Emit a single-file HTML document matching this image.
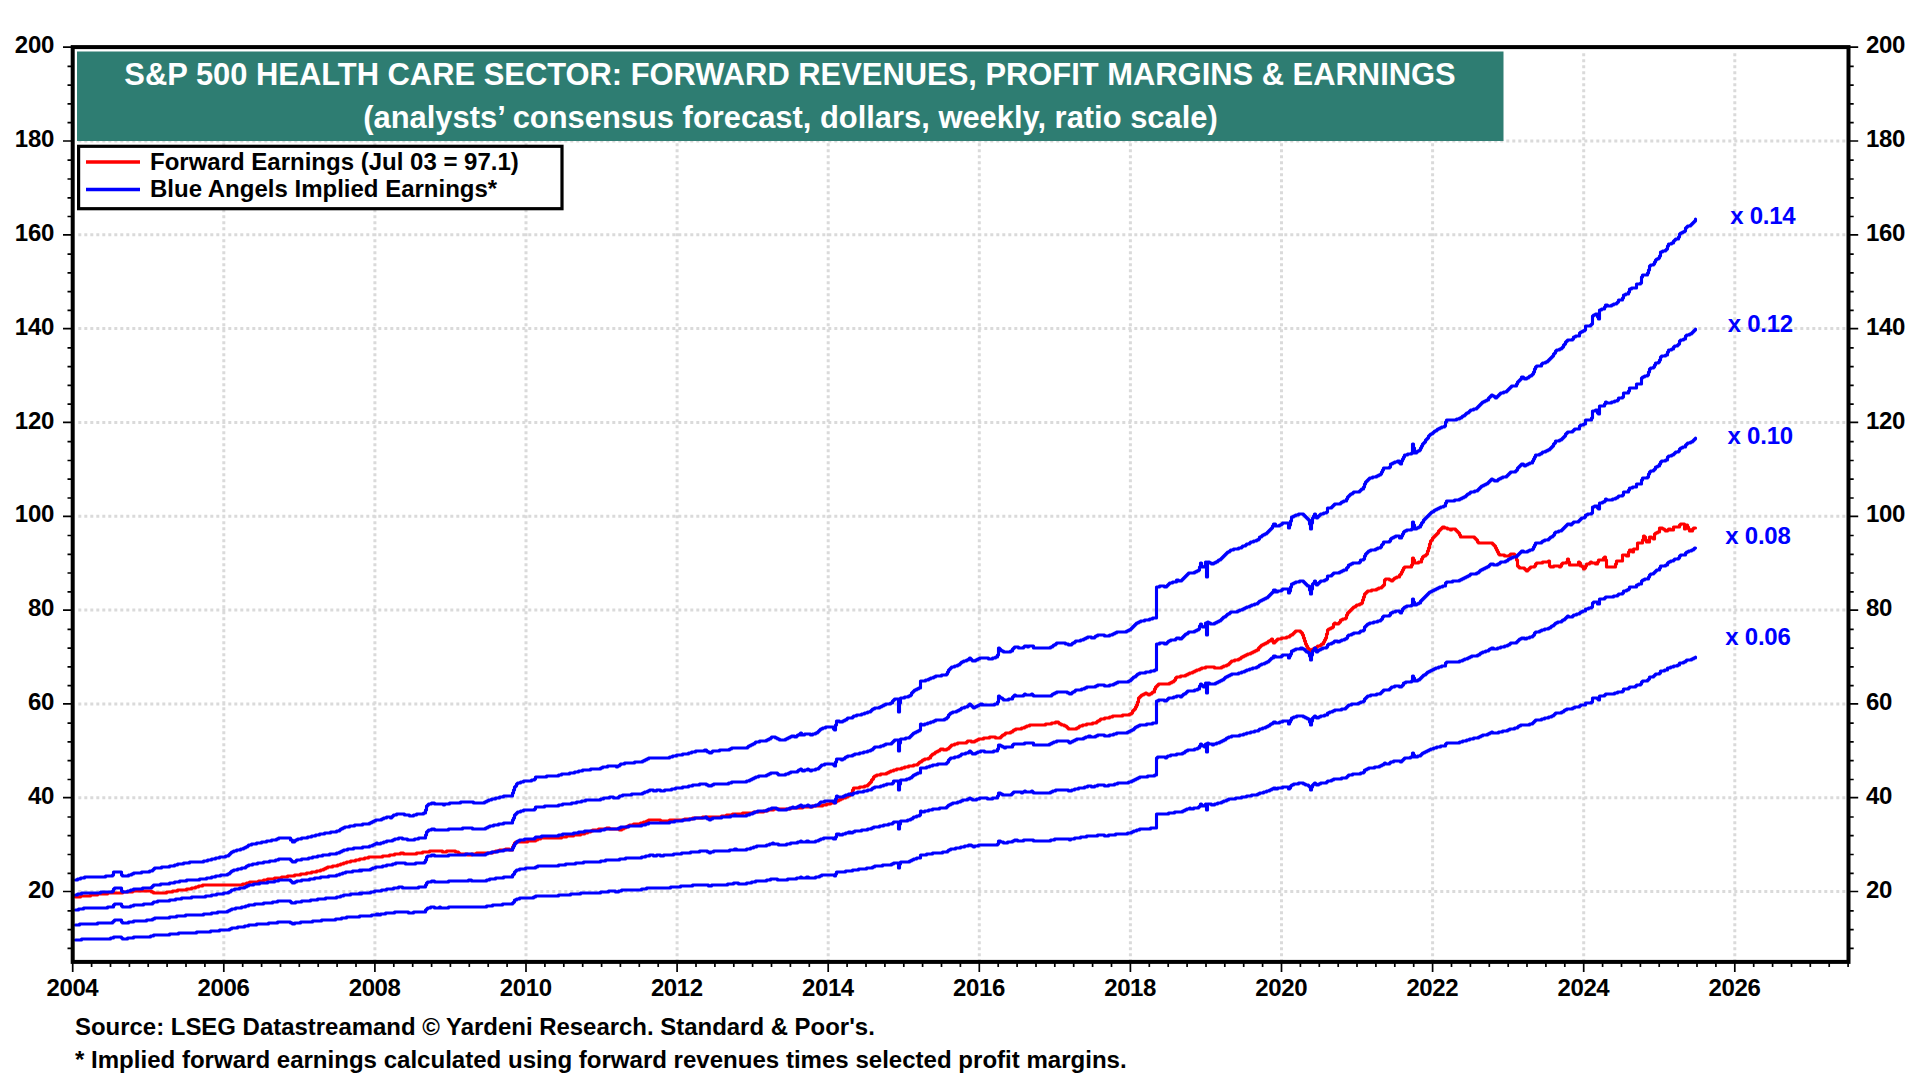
<!DOCTYPE html>
<html lang="en"><head><meta charset="utf-8"><title>S&amp;P 500 Health Care Sector</title>
<style>html,body{margin:0;padding:0;background:#fff;width:1920px;height:1080px;overflow:hidden}</style></head>
<body>
<svg width="1920" height="1080" viewBox="0 0 1920 1080" style="position:absolute;left:0;top:0">
<rect width="1920" height="1080" fill="#fff"/>
<path d="M78.3 891.5H1846.5M78.3 797.7H1846.5M78.3 703.9H1846.5M78.3 610.1H1846.5M78.3 516.3H1846.5M78.3 422.4H1846.5M78.3 328.6H1846.5M78.3 234.8H1846.5M78.3 141.0H1846.5M223.8 53.3V959.9M374.9 53.3V959.9M526.0 53.3V959.9M677.1 53.3V959.9M828.2 53.3V959.9M979.3 53.3V959.9M1130.4 53.3V959.9M1281.5 53.3V959.9M1432.6 53.3V959.9M1583.7 53.3V959.9M1734.8 53.3V959.9" stroke="#dadada" stroke-width="3" stroke-dasharray="3 3" fill="none"/>
<rect x="77" y="51.5" width="1426.5" height="89.5" fill="#2e7d72"/>
<path d="M67.5 948.3H72.7M1848.5 948.3H1853.7M67.5 929.6H72.7M1848.5 929.6H1853.7M67.5 910.8H72.7M1848.5 910.8H1853.7M67.5 873.3H72.7M1848.5 873.3H1853.7M67.5 854.5H72.7M1848.5 854.5H1853.7M67.5 835.7H72.7M1848.5 835.7H1853.7M67.5 817.0H72.7M1848.5 817.0H1853.7M67.5 779.5H72.7M1848.5 779.5H1853.7M67.5 760.7H72.7M1848.5 760.7H1853.7M67.5 741.9H72.7M1848.5 741.9H1853.7M67.5 723.2H72.7M1848.5 723.2H1853.7M67.5 685.6H72.7M1848.5 685.6H1853.7M67.5 666.9H72.7M1848.5 666.9H1853.7M67.5 648.1H72.7M1848.5 648.1H1853.7M67.5 629.3H72.7M1848.5 629.3H1853.7M67.5 591.8H72.7M1848.5 591.8H1853.7M67.5 573.0H72.7M1848.5 573.0H1853.7M67.5 554.3H72.7M1848.5 554.3H1853.7M67.5 535.5H72.7M1848.5 535.5H1853.7M67.5 498.0H72.7M1848.5 498.0H1853.7M67.5 479.2H72.7M1848.5 479.2H1853.7M67.5 460.5H72.7M1848.5 460.5H1853.7M67.5 441.7H72.7M1848.5 441.7H1853.7M67.5 404.2H72.7M1848.5 404.2H1853.7M67.5 385.4H72.7M1848.5 385.4H1853.7M67.5 366.6H72.7M1848.5 366.6H1853.7M67.5 347.9H72.7M1848.5 347.9H1853.7M67.5 310.3H72.7M1848.5 310.3H1853.7M67.5 291.6H72.7M1848.5 291.6H1853.7M67.5 272.8H72.7M1848.5 272.8H1853.7M67.5 254.1H72.7M1848.5 254.1H1853.7M67.5 216.5H72.7M1848.5 216.5H1853.7M67.5 197.8H72.7M1848.5 197.8H1853.7M67.5 179.0H72.7M1848.5 179.0H1853.7M67.5 160.2H72.7M1848.5 160.2H1853.7M67.5 122.7H72.7M1848.5 122.7H1853.7M67.5 103.9H72.7M1848.5 103.9H1853.7M67.5 85.2H72.7M1848.5 85.2H1853.7M67.5 66.4H72.7M1848.5 66.4H1853.7M63.0 891.5H72.7M1848.5 891.5H1858.2M63.0 797.7H72.7M1848.5 797.7H1858.2M63.0 703.9H72.7M1848.5 703.9H1858.2M63.0 610.1H72.7M1848.5 610.1H1858.2M63.0 516.3H72.7M1848.5 516.3H1858.2M63.0 422.4H72.7M1848.5 422.4H1858.2M63.0 328.6H72.7M1848.5 328.6H1858.2M63.0 234.8H72.7M1848.5 234.8H1858.2M63.0 141.0H72.7M1848.5 141.0H1858.2M63.0 47.1H72.7M1848.5 47.1H1858.2M72.7 961.9V972.0M91.6 961.9V967.0M110.5 961.9V967.0M129.4 961.9V967.0M148.2 961.9V967.0M167.1 961.9V967.0M186.0 961.9V967.0M204.9 961.9V967.0M223.8 961.9V972.0M242.7 961.9V967.0M261.6 961.9V967.0M280.5 961.9V967.0M299.3 961.9V967.0M318.2 961.9V967.0M337.1 961.9V967.0M356.0 961.9V967.0M374.9 961.9V972.0M393.8 961.9V967.0M412.7 961.9V967.0M431.6 961.9V967.0M450.4 961.9V967.0M469.3 961.9V967.0M488.2 961.9V967.0M507.1 961.9V967.0M526.0 961.9V972.0M544.9 961.9V967.0M563.8 961.9V967.0M582.7 961.9V967.0M601.6 961.9V967.0M620.4 961.9V967.0M639.3 961.9V967.0M658.2 961.9V967.0M677.1 961.9V972.0M696.0 961.9V967.0M714.9 961.9V967.0M733.8 961.9V967.0M752.6 961.9V967.0M771.5 961.9V967.0M790.4 961.9V967.0M809.3 961.9V967.0M828.2 961.9V972.0M847.1 961.9V967.0M866.0 961.9V967.0M884.9 961.9V967.0M903.8 961.9V967.0M922.6 961.9V967.0M941.5 961.9V967.0M960.4 961.9V967.0M979.3 961.9V972.0M998.2 961.9V967.0M1017.1 961.9V967.0M1036.0 961.9V967.0M1054.8 961.9V967.0M1073.7 961.9V967.0M1092.6 961.9V967.0M1111.5 961.9V967.0M1130.4 961.9V972.0M1149.3 961.9V967.0M1168.2 961.9V967.0M1187.1 961.9V967.0M1206.0 961.9V967.0M1224.8 961.9V967.0M1243.7 961.9V967.0M1262.6 961.9V967.0M1281.5 961.9V972.0M1300.4 961.9V967.0M1319.3 961.9V967.0M1338.2 961.9V967.0M1357.0 961.9V967.0M1375.9 961.9V967.0M1394.8 961.9V967.0M1413.7 961.9V967.0M1432.6 961.9V972.0M1451.5 961.9V967.0M1470.4 961.9V967.0M1489.3 961.9V967.0M1508.2 961.9V967.0M1527.0 961.9V967.0M1545.9 961.9V967.0M1564.8 961.9V967.0M1583.7 961.9V972.0M1602.6 961.9V967.0M1621.5 961.9V967.0M1640.4 961.9V967.0M1659.2 961.9V967.0M1678.1 961.9V967.0M1697.0 961.9V967.0M1715.9 961.9V967.0M1734.8 961.9V972.0M1753.7 961.9V967.0M1772.6 961.9V967.0M1791.5 961.9V967.0M1810.3 961.9V967.0M1829.2 961.9V967.0M1848.1 961.9V967.0" stroke="#000" stroke-width="1.7" fill="none"/>
<path d="M75.5 897H79.5H80.5V896H89.5H90.5V895H96.5H97.5V894H106.5H107.5V893H121.5H122.5V892H131.5H132.5V891H150.5H151.5V892H152.5H153.5V893H165.5H166.5V892H171.5H172.5V891H176.5H177.5V890H185.5H186.5V889H190.5H191.5V888H194.5H195.5V887H197.5H198.5V886H201.5H202.5V885H241.5H242.5V884H245.5H246.5V883H248.5H249.5V882H257.5H258.5V881H262.5H263.5V880H266.5H267.5V879H273.5H274.5V878H280.5H281.5V877H286.5H287.5V876H293.5H294.5V875H299.5H300.5V874H305.5H306.5V873H310.5H311.5V872H315.5H316.5V871H319.5H320.5V870H322.5H323.5V869H324.5H325.5V868H326.5H327.5V867H331.5H332.5V866H336.5H337.5V865H339.5H340.5V864H342.5H343.5V863H345.5H346.5V862H349.5H350.5V861H354.5H355.5V860H358.5H359.5V859H363.5H364.5V858H367.5H368.5V857H381.5H382.5V856H388.5H389.5V855H393.5H394.5V854H399.5H400.5V853H402.5H403.5V854H415.5H416.5V853H421.5H422.5V852H428.5H429.5V851H441.5H442.5V852H445.5H446.5V851H454.5H455.5V852H457.5H458.5V853H459.5V854H466.5H467.5V855H470.5H471.5V854H475.5H476.5V853H491.5H492.5V852H494.5H495.5V851H498.5H499.5V850H504.5H505.5V849H508.5H509.5V850H511.5H512.5V847H513.5V845H514.5V843H515.5V842H526.5H527.5V841H534.5H535.5V840H536.5H537.5V839H539.5H540.5V838H560.5H561.5V837H565.5H566.5V836H572.5H573.5V835H579.5H580.5V834H583.5H584.5V833H586.5H587.5V832H589.5H590.5V831H591.5H592.5V830H597.5H598.5V829H605.5H606.5V828H608.5H609.5V829H618.5H619.5V830H620.5H621.5V829H622.5H623.5V828H624.5H625.5V827H626.5H627.5V826H628.5H629.5V825H632.5H633.5V824H639.5H640.5V823H642.5H643.5V822H645.5H646.5V821H647.5H648.5V820H659.5H660.5V821H668.5H669.5V820H683.5H684.5V819H691.5H692.5V818H701.5H702.5V817H720.5H721.5V816H725.5H726.5V815H731.5H732.5V814H741.5H742.5V813H752.5H753.5V812H762.5H763.5V811H766.5H767.5V810H772.5H773.5V809H789.5H790.5V808H801.5H802.5V807H811.5H812.5V806H821.5H822.5V805H825.5H826.5V804H829.5H830.5V803H833.5H834.5V802H835.5H836.5V801H837.5H838.5V800H839.5H840.5V799H841.5H842.5V798H844.5H845.5V797H846.5H847.5V796H848.5H849.5V795H850.5V794H851.5V793H852.5V790H853.5V788H858.5H859.5V787H863.5H864.5V786H866.5H867.5V785H868.5V784H869.5V783H870.5V782H871.5V780H872.5V779H873.5V777H874.5V776H875.5H876.5V775H879.5H880.5V774H885.5H886.5V773H887.5H888.5V772H889.5H890.5V771H892.5H893.5V770H895.5H896.5V769H900.5H901.5V768H903.5H904.5V767H907.5H908.5V766H912.5H913.5V765H916.5H917.5V764H918.5V763H919.5V762H920.5H921.5V761H922.5V760H923.5H924.5V759H927.5H928.5V758H929.5H930.5V756H931.5V755H932.5V754H933.5H934.5V753H935.5V752H936.5H937.5V751H938.5H939.5V750H940.5V749H942.5H943.5V750H945.5H946.5V749H947.5H948.5V748H949.5V747H950.5V746H951.5V745H953.5H954.5V744H956.5H957.5V743H965.5H966.5V742H967.5V741H970.5H971.5V742H973.5H974.5V741H975.5H976.5V740H977.5H978.5V739H982.5H983.5V738H988.5H989.5V737H994.5H995.5V738H999.5H1000.5V737H1001.5V736H1002.5V735H1003.5H1004.5V734H1005.5V733H1009.5H1010.5V732H1011.5H1012.5V731H1013.5V730H1014.5H1015.5V729H1020.5H1021.5V728H1023.5H1024.5V727H1025.5H1026.5V726H1028.5H1029.5V725H1044.5H1045.5V724H1050.5H1051.5V723H1054.5H1055.5V722H1057.5H1058.5V723H1059.5V724H1060.5H1061.5V725H1063.5H1064.5V726H1065.5H1066.5V727H1067.5V728H1068.5V729H1075.5H1076.5V728H1077.5H1078.5V727H1079.5V726H1081.5H1082.5V725H1085.5H1086.5V724H1091.5H1092.5V723H1095.5H1096.5V722H1097.5V721H1098.5H1099.5V720H1100.5V719H1103.5H1104.5V718H1108.5H1109.5V717H1111.5H1112.5V716H1121.5H1122.5V715H1128.5H1129.5V714H1130.5H1131.5V713H1132.5V711H1133.5V710H1134.5V709H1135.5V707H1136.5V705H1137.5V702H1138.5V698H1139.5V697H1140.5V696H1141.5V695H1142.5H1143.5V694H1144.5H1145.5V693H1146.5V694H1147.5H1148.5V695H1149.5V694H1150.5H1151.5V693H1152.5V692H1153.5H1154.5V689H1155.5V687H1156.5V686H1157.5V685H1158.5V684H1168.5H1169.5V683H1170.5H1171.5V682H1172.5H1173.5V681H1174.5V680H1175.5V678H1176.5V677H1179.5H1180.5V676H1184.5H1185.5V675H1186.5H1187.5V674H1188.5H1189.5V673H1191.5H1192.5V672H1193.5H1194.5V671H1195.5H1196.5V670H1198.5H1199.5V669H1200.5H1201.5V668H1204.5H1205.5V667H1213.5H1214.5V668H1220.5H1221.5V667H1222.5H1223.5V666H1225.5H1226.5V665H1227.5H1228.5V664H1229.5V663H1230.5V662H1231.5V661H1233.5H1234.5V660H1237.5H1238.5V659H1239.5H1240.5V658H1241.5V657H1242.5H1243.5V656H1244.5H1245.5V655H1246.5H1247.5V654H1249.5H1250.5V653H1251.5H1252.5V652H1253.5H1254.5V651H1255.5H1256.5V650H1257.5H1258.5V648H1259.5V647H1260.5V646H1261.5V645H1262.5H1263.5V644H1264.5H1265.5V643H1266.5H1267.5V642H1268.5V641H1269.5H1270.5V640H1271.5V639H1272.5V641H1273.5V643H1274.5V642H1275.5V641H1276.5V640H1277.5V639H1280.5H1281.5V638H1285.5H1286.5V637H1288.5H1289.5V636H1290.5V635H1291.5H1292.5V634H1293.5V633H1294.5V632H1295.5V631H1299.5H1300.5V632H1301.5V633H1302.5V635H1303.5V638H1304.5V641H1305.5V644H1306.5V646H1307.5V648H1308.5V649H1309.5V650H1310.5V651H1311.5V650H1312.5V649H1313.5H1314.5V648H1315.5H1316.5V647H1317.5V646H1319.5H1320.5V645H1321.5V644H1322.5H1323.5V642H1324.5V640H1325.5V638H1326.5V634H1327.5V630H1328.5V629H1329.5H1330.5V628H1331.5H1332.5V627H1333.5V624H1334.5V623H1335.5V624H1337.5H1338.5V623H1339.5V622H1340.5V620H1341.5H1342.5V619H1344.5H1345.5V618H1346.5V615H1347.5V613H1348.5V612H1349.5V611H1350.5V610H1351.5V609H1352.5V608H1353.5V607H1354.5H1355.5V606H1356.5V605H1358.5H1359.5V604H1360.5H1361.5V603H1362.5V600H1363.5V597H1364.5V594H1365.5V593H1366.5V592H1367.5V591H1370.5H1371.5V590H1375.5H1376.5V589H1377.5H1378.5V588H1380.5H1381.5V587H1382.5V586H1383.5V585H1384.5V580H1385.5V579H1388.5H1389.5V580H1390.5H1391.5V581H1392.5V580H1393.5V579H1394.5V578H1395.5H1396.5V577H1398.5H1399.5V575H1400.5V574H1401.5V572H1402.5V570H1403.5V568H1404.5V567H1410.5H1411.5V565H1412.5V558H1413.5V560H1414.5V563H1417.5H1418.5V562H1420.5H1421.5V559H1422.5V557H1423.5V556H1424.5H1425.5V555H1426.5V554H1427.5V551H1428.5V548H1429.5V544H1430.5V541H1431.5V540H1432.5V538H1433.5V537H1434.5V536H1435.5V535H1436.5V534H1437.5V533H1438.5V531H1439.5V530H1440.5V529H1441.5V528H1442.5V527H1443.5H1444.5V528H1446.5H1447.5V529H1449.5H1450.5V530H1451.5V529H1454.5H1455.5V530H1456.5V531H1457.5V532H1458.5V533H1459.5V535H1460.5V537H1473.5H1474.5V538H1475.5V539H1476.5V540H1477.5V542H1478.5V543H1491.5H1492.5V544H1493.5V545H1494.5V546H1495.5V548H1496.5V550H1497.5V552H1498.5V554H1499.5V555H1503.5H1504.5V556H1508.5H1509.5V555H1510.5V554H1513.5H1514.5V555H1515.5V557H1516.5V560H1517.5V566H1518.5V567H1519.5V568H1523.5H1524.5V569H1525.5V570H1526.5V571H1527.5V570H1528.5V569H1529.5V568H1530.5V567H1533.5H1534.5V566H1535.5V564H1536.5V563H1541.5H1542.5V562H1547.5H1548.5V561H1549.5V566H1550.5V567H1552.5H1553.5V566H1558.5H1559.5V567H1560.5V566H1561.5V564H1562.5V563H1565.5H1566.5V562H1567.5V559H1568.5V562H1569.5V565H1577.5H1578.5V562H1579.5V563H1580.5V566H1581.5H1582.5V567H1583.5V569H1584.5V568H1585.5V566H1586.5V564H1588.5H1589.5V563H1590.5V562H1591.5V563H1594.5H1595.5V564H1596.5H1597.5V562H1598.5V560H1602.5H1603.5V558H1604.5V557H1605.5V560H1606.5V567H1614.5H1615.5V564H1616.5V561H1621.5H1622.5V555H1625.5H1626.5V556H1627.5H1628.5V552H1629.5V550H1630.5H1631.5V551H1632.5V552H1633.5V549H1636.5H1637.5V543H1641.5H1642.5V540H1643.5V536H1644.5V537H1645.5V540H1646.5V542H1648.5H1649.5V537H1650.5H1651.5V538H1652.5H1653.5V539H1654.5V534H1655.5V533H1656.5H1657.5V532H1658.5H1659.5V528H1661.5H1662.5V529H1663.5H1664.5V530H1665.5V531H1666.5H1667.5V530H1668.5V529H1669.5H1670.5V530H1672.5H1673.5V527H1678.5H1679.5V525H1680.5V524H1683.5H1684.5V529H1685.5V528H1686.5V525H1687.5V527H1688.5V529H1689.5V531H1691.5H1692.5V529H1693.5V528H1695.5" stroke="#ff0000" stroke-width="3.1" fill="none" stroke-linejoin="round" stroke-linecap="round"/>
<path d="M75.5 940H80.5H81.5V939H109.5H110.5V938H112.5H113.5V937H120.5H121.5V938H122.5V939H126.5H127.5V938H132.5H133.5V937H149.5H150.5V936H152.5H153.5V935H168.5H169.5V934H177.5H178.5V933H195.5H196.5V932H209.5H210.5V931H218.5H219.5V930H228.5H229.5V929H230.5H231.5V928H236.5H237.5V927H243.5H244.5V926H247.5H248.5V925H255.5H256.5V924H267.5H268.5V923H276.5H277.5V922H289.5H290.5V923H291.5H292.5V924H293.5H294.5V923H299.5H300.5V922H311.5H312.5V921H320.5H321.5V920H334.5H335.5V919H340.5H341.5V918H345.5H346.5V917H358.5H359.5V916H370.5H371.5V915H375.5H376.5V914H377.5H378.5V915H379.5H380.5V914H384.5H385.5V913H393.5H394.5V912H407.5H408.5V913H412.5H413.5V912H424.5H425.5V910H426.5V909H427.5V908H429.5H430.5V907H433.5H434.5V908H438.5H439.5V907H440.5V908H447.5H448.5V907H485.5H486.5V906H491.5H492.5V905H501.5H502.5V904H511.5H512.5V903H513.5V902H514.5V900H515.5H516.5V899H518.5H519.5V898H532.5H533.5V897H534.5H535.5V896H557.5H558.5V895H569.5H570.5V894H579.5H580.5V893H599.5H600.5V892H607.5H608.5V891H614.5H615.5V892H617.5H618.5V891H620.5H621.5V890H640.5H641.5V889H645.5H646.5V888H669.5H670.5V887H679.5H680.5V886H691.5H692.5V885H707.5H708.5V886H710.5H711.5V885H726.5H727.5V884H732.5H733.5V883H737.5H738.5V884H745.5H746.5V883H750.5H751.5V882H754.5H755.5V881H765.5H766.5V880H769.5H770.5V879H776.5H777.5V880H786.5H787.5V879H795.5H796.5V878H799.5H800.5V877H801.5V878H805.5H806.5V877H807.5H808.5V878H814.5H815.5V877H818.5H819.5V876H820.5H821.5V875H833.5H834.5V876H835.5V874H836.5V872H844.5H845.5V871H851.5H852.5V870H857.5H858.5V869H865.5H866.5V868H871.5H872.5V867H873.5H874.5V866H881.5H882.5V865H890.5H891.5V864H892.5H893.5V863H897.5H898.5V868H899.5V864H900.5V862H908.5H909.5V861H910.5H911.5V860H912.5H913.5V859H915.5H916.5V858H919.5H920.5V855H925.5H926.5V854H931.5H932.5V853H941.5H942.5V852H946.5H947.5V851H948.5V850H949.5H950.5V849H954.5H955.5V848H959.5H960.5V847H963.5H964.5V846H967.5H968.5V845H970.5H971.5V846H972.5H973.5V847H974.5V846H977.5H978.5V845H996.5H997.5V844H998.5V841H999.5H1000.5V842H1002.5H1003.5V843H1006.5H1007.5V842H1011.5H1012.5V841H1013.5H1014.5V840H1016.5H1017.5V841H1022.5H1023.5V840H1032.5H1033.5V841H1049.5H1050.5V840H1053.5H1054.5V839H1068.5H1069.5V840H1070.5V839H1073.5H1074.5V838H1079.5H1080.5V837H1085.5H1086.5V836H1096.5H1097.5V835H1103.5H1104.5V836H1107.5H1108.5V835H1114.5H1115.5V834H1126.5H1127.5V833H1130.5H1131.5V832H1132.5H1133.5V831H1135.5H1136.5V830H1138.5H1139.5V829H1149.5H1150.5V828H1155.5H1156.5V814H1167.5H1168.5V813H1173.5H1174.5V812H1181.5H1182.5V811H1183.5H1184.5V810H1185.5H1186.5V809H1188.5H1189.5V808H1190.5V809H1192.5H1193.5V808H1197.5H1198.5V807H1199.5V806H1200.5V804H1201.5V805H1202.5V806H1204.5H1205.5V804H1206.5V810H1207.5V804H1210.5H1211.5V805H1213.5H1214.5V804H1216.5H1217.5V803H1220.5H1221.5V802H1222.5H1223.5V801H1225.5H1226.5V800H1227.5H1228.5V799H1234.5H1235.5V798H1240.5H1241.5V797H1245.5H1246.5V796H1250.5H1251.5V795H1256.5H1257.5V794H1258.5H1259.5V793H1262.5H1263.5V792H1265.5H1266.5V791H1268.5H1269.5V790H1270.5H1271.5V789H1272.5H1273.5V788H1274.5H1275.5V789H1276.5H1277.5V788H1281.5H1282.5V787H1287.5H1288.5V789H1289.5V788H1290.5V786H1291.5V785H1292.5H1293.5V784H1297.5H1298.5V783H1302.5H1303.5V784H1304.5H1305.5V785H1307.5H1308.5V786H1309.5V787H1310.5V790H1311.5V787H1312.5V785H1313.5V784H1314.5V783H1315.5V784H1316.5V785H1317.5H1318.5V784H1319.5H1320.5V783H1325.5H1326.5V782H1327.5V781H1330.5H1331.5V780H1332.5H1333.5V779H1340.5H1341.5V778H1345.5H1346.5V777H1347.5V776H1348.5V775H1351.5H1352.5V774H1359.5H1360.5V773H1362.5H1363.5V772H1364.5V770H1365.5H1366.5V769H1367.5H1368.5V768H1373.5H1374.5V767H1378.5H1379.5V766H1380.5H1381.5V765H1382.5H1383.5V764H1384.5V763H1385.5V764H1388.5H1389.5V763H1390.5V762H1392.5H1393.5V761H1399.5H1400.5V762H1401.5V761H1402.5V760H1403.5V759H1404.5V758H1409.5H1410.5V757H1411.5H1412.5V753H1413.5V755H1414.5V757H1416.5H1417.5V756H1419.5H1420.5V755H1421.5V754H1422.5V753H1423.5H1424.5V752H1425.5H1426.5V751H1427.5H1428.5V750H1429.5H1430.5V749H1432.5H1433.5V748H1435.5H1436.5V747H1439.5H1440.5V746H1444.5H1445.5V744H1446.5V743H1458.5H1459.5V742H1461.5H1462.5V741H1465.5H1466.5V740H1468.5H1469.5V739H1472.5H1473.5V738H1477.5H1478.5V737H1479.5H1480.5V736H1481.5H1482.5V735H1486.5H1487.5V734H1488.5H1489.5V733H1490.5H1491.5V732H1492.5V733H1497.5H1498.5V732H1501.5H1502.5V731H1506.5H1507.5V730H1508.5H1509.5V729H1513.5H1514.5V728H1516.5H1517.5V727H1518.5V726H1519.5H1520.5V725H1528.5H1529.5V724H1531.5H1532.5V723H1533.5V722H1534.5V721H1535.5V720H1540.5H1541.5V719H1543.5H1544.5V718H1547.5H1548.5V717H1550.5H1551.5V716H1552.5H1553.5V715H1554.5V714H1555.5V713H1560.5H1561.5V712H1562.5H1563.5V711H1564.5V710H1565.5H1566.5V709H1571.5H1572.5V708H1573.5H1574.5V707H1578.5H1579.5V706H1580.5V705H1584.5H1585.5V703H1590.5H1591.5V702H1592.5V698H1596.5H1597.5V699H1598.5V700H1599.5V696H1603.5H1604.5V695H1605.5V694H1613.5H1614.5V693H1616.5H1617.5V692H1621.5H1622.5V691H1623.5V689H1627.5H1628.5V688H1629.5V687H1634.5H1635.5V686H1636.5V685H1639.5H1640.5V684H1641.5V682H1642.5V681H1646.5H1647.5V680H1648.5V679H1649.5V677H1652.5H1653.5V676H1654.5V675H1655.5V674H1658.5H1659.5V673H1660.5V671H1663.5H1664.5V670H1666.5H1667.5V668H1669.5H1670.5V667H1672.5H1673.5V666H1676.5H1677.5V665H1678.5H1679.5V663H1682.5H1683.5V662H1684.5H1685.5V661H1686.5V660H1690.5H1691.5V659H1692.5H1693.5V658H1694.5H1695.5V657" stroke="#0000ff" stroke-width="3.1" fill="none" stroke-linejoin="round" stroke-linecap="round"/>
<path d="M75.5 925H78.5H79.5V924H96.5H97.5V923H111.5H112.5V922H113.5V921H114.5V920H120.5H121.5V922H122.5V923H127.5H128.5V922H132.5H133.5V921H145.5H146.5V920H151.5H152.5V919H153.5H154.5V918H168.5H169.5V917H175.5H176.5V916H184.5H185.5V915H202.5H203.5V914H210.5H211.5V913H216.5H217.5V912H226.5H227.5V911H228.5H229.5V910H230.5H231.5V909H234.5H235.5V908H240.5H241.5V907H244.5H245.5V906H247.5H248.5V905H253.5H254.5V904H262.5H263.5V903H271.5H272.5V902H276.5H277.5V901H289.5H290.5V902H291.5V903H294.5H295.5V902H300.5H301.5V901H309.5H310.5V900H316.5H317.5V899H324.5H325.5V898H335.5H336.5V897H339.5H340.5V896H342.5H343.5V895H349.5H350.5V894H358.5H359.5V893H360.5V894H361.5V893H369.5H370.5V892H373.5H374.5V891H380.5H381.5V890H385.5H386.5V889H392.5H393.5V888H397.5H398.5V887H401.5H402.5V888H417.5H418.5V887H424.5H425.5V885H426.5V883H427.5V882H430.5H431.5V881H433.5H434.5V882H447.5H448.5V881H467.5H468.5V880H470.5H471.5V881H485.5H486.5V880H488.5H489.5V879H494.5H495.5V878H502.5H503.5V877H511.5H512.5V875H513.5V874H514.5V872H515.5V871H516.5V870H518.5H519.5V869H524.5H525.5V868H534.5H535.5V867H536.5H537.5V866H557.5H558.5V865H564.5H565.5V864H574.5H575.5V863H582.5H583.5V862H599.5H600.5V861H604.5H605.5V860H618.5H619.5V859H624.5H625.5V858H640.5H641.5V857H644.5H645.5V856H648.5H649.5V855H652.5H653.5V856H655.5H656.5V855H659.5H660.5V856H662.5H663.5V855H672.5H673.5V854H680.5H681.5V853H689.5H690.5V852H698.5H699.5V851H706.5H707.5V852H708.5H709.5V853H710.5V852H712.5H713.5V851H728.5H729.5V850H733.5H734.5V849H735.5H736.5V850H745.5H746.5V849H749.5H750.5V848H752.5H753.5V847H755.5H756.5V846H765.5H766.5V845H768.5H769.5V844H771.5H772.5V843H773.5V844H777.5H778.5V845H785.5H786.5V844H789.5H790.5V843H796.5H797.5V842H799.5H800.5V841H801.5V842H805.5H806.5V841H807.5H808.5V842H814.5H815.5V841H817.5H818.5V840H819.5H820.5V839H822.5H823.5V838H832.5H833.5V839H834.5H835.5V837H836.5V834H838.5H839.5V835H841.5H842.5V834H844.5H845.5V833H847.5H848.5V832H849.5H850.5V833H851.5H852.5V832H853.5H854.5V831H860.5H861.5V830H866.5H867.5V829H870.5H871.5V828H872.5H873.5V827H878.5H879.5V826H882.5H883.5V825H887.5H888.5V824H891.5H892.5V823H893.5V822H897.5H898.5V829H899.5V824H900.5V821H906.5H907.5V820H909.5H910.5V819H911.5H912.5V818H913.5V817H915.5H916.5V816H918.5H919.5V815H920.5V811H921.5V812H923.5H924.5V811H927.5H928.5V810H931.5H932.5V809H938.5H939.5V808H945.5H946.5V807H947.5V806H948.5V805H949.5H950.5V804H951.5H952.5V803H956.5H957.5V802H959.5H960.5V801H961.5H962.5V800H966.5H967.5V799H968.5H969.5V798H970.5V799H971.5H972.5V800H975.5H976.5V799H978.5H979.5V798H986.5H987.5V799H991.5H992.5V798H996.5H997.5V796H998.5V793H999.5H1000.5V794H1001.5H1002.5V795H1010.5H1011.5V794H1012.5V793H1013.5V792H1020.5H1021.5V793H1022.5V792H1023.5H1024.5V791H1025.5V792H1030.5H1031.5V791H1032.5V792H1033.5V793H1049.5H1050.5V792H1051.5H1052.5V791H1054.5H1055.5V790H1067.5H1068.5V791H1070.5H1071.5V790H1073.5H1074.5V789H1077.5H1078.5V788H1083.5H1084.5V787H1086.5H1087.5V786H1090.5H1091.5V787H1093.5H1094.5V786H1096.5H1097.5V785H1103.5H1104.5V786H1107.5H1108.5V785H1113.5H1114.5V784H1116.5H1117.5V783H1127.5H1128.5V782H1130.5H1131.5V781H1132.5H1133.5V780H1134.5H1135.5V779H1136.5H1137.5V778H1138.5H1139.5V777H1146.5H1147.5V776H1153.5H1154.5V775H1155.5H1156.5V758H1157.5V757H1164.5H1165.5V758H1166.5V757H1167.5V756H1169.5H1170.5V755H1175.5H1176.5V754H1181.5H1182.5V753H1183.5H1184.5V752H1185.5V751H1186.5H1187.5V750H1193.5H1194.5V749H1196.5H1197.5V748H1198.5H1199.5V746H1200.5V744H1201.5V745H1202.5V746H1203.5H1204.5V747H1205.5V744H1206.5V752H1207.5V743H1208.5V744H1211.5H1212.5V745H1213.5V744H1215.5H1216.5V743H1218.5H1219.5V742H1220.5H1221.5V741H1222.5H1223.5V740H1224.5H1225.5V739H1226.5V738H1227.5H1228.5V737H1230.5H1231.5V736H1238.5H1239.5V735H1242.5H1243.5V734H1245.5H1246.5V733H1249.5H1250.5V732H1253.5H1254.5V731H1257.5H1258.5V730H1259.5V729H1261.5H1262.5V728H1264.5H1265.5V727H1266.5H1267.5V726H1268.5H1269.5V725H1270.5V724H1271.5H1272.5V723H1273.5V722H1274.5H1275.5V723H1278.5H1279.5V722H1281.5H1282.5V721H1287.5H1288.5V724H1289.5V722H1290.5V720H1291.5V718H1292.5H1293.5V717H1295.5H1296.5V716H1302.5H1303.5V717H1304.5H1305.5V718H1306.5H1307.5V719H1308.5H1309.5V722H1310.5V725H1311.5V721H1312.5V718H1313.5V717H1314.5V716H1315.5V717H1316.5V718H1317.5H1318.5V717H1319.5H1320.5V716H1323.5H1324.5V715H1326.5H1327.5V713H1328.5H1329.5V712H1331.5H1332.5V711H1333.5H1334.5V710H1340.5H1341.5V709H1344.5H1345.5V708H1346.5V707H1347.5V706H1348.5V705H1350.5H1351.5V704H1357.5H1358.5V703H1359.5H1360.5V702H1362.5H1363.5V701H1364.5V699H1365.5V698H1366.5V697H1367.5V696H1369.5H1370.5V695H1375.5H1376.5V694H1379.5H1380.5V693H1381.5V692H1382.5V691H1383.5V690H1388.5H1389.5V689H1390.5V688H1391.5V687H1393.5H1394.5V686H1398.5H1399.5V687H1400.5H1401.5V686H1402.5V685H1403.5V683H1404.5H1405.5V682H1410.5H1411.5V681H1412.5V676H1413.5V678H1414.5V681H1416.5H1417.5V680H1418.5H1419.5V679H1420.5V678H1421.5V677H1422.5V676H1423.5V675H1424.5H1425.5V674H1426.5V673H1427.5V672H1428.5H1429.5V671H1430.5H1431.5V670H1432.5H1433.5V669H1434.5H1435.5V668H1437.5H1438.5V667H1440.5H1441.5V666H1444.5H1445.5V663H1446.5V662H1458.5H1459.5V661H1461.5H1462.5V660H1463.5H1464.5V659H1466.5H1467.5V658H1468.5H1469.5V657H1470.5H1471.5V656H1476.5H1477.5V655H1478.5H1479.5V654H1480.5V653H1481.5H1482.5V652H1484.5H1485.5V651H1487.5H1488.5V650H1489.5V649H1490.5H1491.5V648H1492.5H1493.5V649H1496.5H1497.5V648H1499.5H1500.5V647H1503.5H1504.5V646H1506.5H1507.5V645H1508.5H1509.5V644H1510.5V643H1515.5H1516.5V642H1517.5V641H1518.5V640H1519.5V639H1520.5H1521.5V638H1523.5H1524.5V639H1525.5H1526.5V638H1528.5H1529.5V637H1531.5H1532.5V636H1533.5V635H1534.5V633H1535.5V632H1538.5H1539.5V631H1540.5H1541.5V630H1543.5H1544.5V629H1547.5H1548.5V628H1549.5H1550.5V627H1551.5V626H1552.5H1553.5V625H1554.5V624H1555.5V623H1556.5H1557.5V622H1560.5H1561.5V621H1562.5V620H1563.5H1564.5V619H1565.5V618H1566.5V617H1567.5V616H1568.5V617H1571.5H1572.5V616H1573.5V615H1575.5H1576.5V614H1578.5H1579.5V613H1580.5V612H1581.5H1582.5V611H1584.5H1585.5V609H1587.5H1588.5V608H1590.5H1591.5V607H1592.5V603H1593.5V602H1596.5H1597.5V604H1598.5H1599.5V599H1603.5H1604.5V598H1605.5V597H1612.5H1613.5V596H1616.5H1617.5V595H1618.5V594H1621.5H1622.5V593H1623.5V591H1625.5H1626.5V590H1627.5H1628.5V589H1629.5V587H1635.5H1636.5V585H1637.5H1638.5V584H1640.5H1641.5V581H1642.5V580H1643.5H1644.5V579H1647.5H1648.5V577H1649.5V575H1650.5V574H1652.5H1653.5V573H1654.5V572H1655.5V571H1656.5V570H1658.5H1659.5V568H1660.5V566H1664.5H1665.5V565H1666.5H1667.5V563H1668.5V562H1669.5H1670.5V561H1672.5H1673.5V560H1674.5V559H1677.5H1678.5V558H1679.5V556H1680.5V555H1684.5H1685.5V553H1686.5V552H1687.5H1688.5V551H1690.5H1691.5V550H1692.5H1693.5V549H1694.5V548H1695.5" stroke="#0000ff" stroke-width="3.1" fill="none" stroke-linejoin="round" stroke-linecap="round"/>
<path d="M75.5 910H77.5H78.5V909H82.5H83.5V908H106.5H107.5V907H112.5H113.5V905H114.5V904H120.5H121.5V906H122.5V907H129.5H130.5V906H132.5H133.5V905H142.5H143.5V904H151.5H152.5V903H153.5V902H156.5H157.5V901H168.5H169.5V900H174.5H175.5V899H180.5H181.5V898H190.5H191.5V897H204.5H205.5V896H210.5H211.5V895H215.5H216.5V894H222.5H223.5V893H227.5H228.5V892H229.5H230.5V891H231.5V890H233.5H234.5V889H238.5H239.5V888H243.5H244.5V887H245.5H246.5V886H247.5H248.5V885H252.5H253.5V884H258.5H259.5V883H266.5H267.5V882H273.5H274.5V881H277.5H278.5V880H289.5H290.5V881H291.5V882H292.5V883H293.5H294.5V882H295.5H296.5V881H300.5H301.5V880H308.5H309.5V879H313.5H314.5V878H319.5H320.5V877H327.5H328.5V876H335.5H336.5V875H338.5H339.5V874H341.5H342.5V873H344.5H345.5V872H351.5H352.5V871H358.5H359.5V870H360.5V871H361.5V870H369.5H370.5V869H371.5H372.5V868H374.5H375.5V867H381.5H382.5V866H385.5H386.5V865H391.5H392.5V864H394.5H395.5V863H404.5H405.5V864H414.5H415.5V863H423.5H424.5V862H425.5V860H426.5V857H427.5V856H430.5H431.5V855H433.5H434.5V856H447.5H448.5V855H464.5H465.5V854H471.5H472.5V855H484.5H485.5V854H486.5H487.5V853H490.5H491.5V852H496.5H497.5V851H502.5H503.5V850H511.5H512.5V848H513.5V846H514.5V844H515.5V843H516.5V842H517.5V841H518.5H519.5V840H523.5H524.5V839H533.5H534.5V838H535.5V837H540.5H541.5V836H557.5H558.5V835H561.5H562.5V834H572.5H573.5V833H577.5H578.5V832H583.5H584.5V831H599.5H600.5V830H603.5H604.5V829H617.5H618.5V828H619.5H620.5V827H627.5H628.5V826H640.5H641.5V825H644.5H645.5V824H647.5H648.5V823H668.5H669.5V822H673.5H674.5V821H681.5H682.5V820H688.5H689.5V819H693.5H694.5V818H704.5H705.5V817H706.5V818H707.5V819H708.5H709.5V820H710.5V819H711.5H712.5V818H720.5H721.5V817H729.5H730.5V816H733.5H734.5V815H735.5V816H745.5H746.5V815H748.5H749.5V814H751.5H752.5V813H753.5H754.5V812H756.5H757.5V811H765.5H766.5V810H767.5H768.5V809H770.5H771.5V808H775.5H776.5V809H777.5H778.5V810H785.5H786.5V809H788.5H789.5V808H791.5H792.5V807H793.5V808H795.5H796.5V807H797.5H798.5V806H799.5H800.5V805H801.5V806H802.5V807H803.5V806H806.5H807.5V805H808.5V806H809.5H810.5V807H811.5V806H814.5H815.5V805H817.5H818.5V804H819.5V803H820.5V802H823.5H824.5V801H832.5H833.5V802H834.5V803H835.5V799H836.5V796H837.5V797H842.5H843.5V796H844.5H845.5V795H847.5H848.5V794H850.5H851.5V795H852.5V794H853.5V793H856.5H857.5V792H862.5H863.5V791H866.5H867.5V790H870.5H871.5V789H872.5V788H873.5H874.5V787H879.5H880.5V786H882.5H883.5V785H885.5H886.5V784H891.5H892.5V783H893.5V781H897.5H898.5V790H899.5V784H900.5V780H905.5H906.5V779H908.5H909.5V778H910.5H911.5V777H912.5V776H913.5V775H914.5H915.5V774H916.5H917.5V773H919.5H920.5V768H925.5H926.5V767H928.5H929.5V766H931.5H932.5V765H936.5H937.5V764H945.5H946.5V763H947.5V762H948.5V760H949.5V759H950.5V758H953.5H954.5V757H957.5H958.5V756H959.5H960.5V755H961.5V754H964.5H965.5V753H967.5H968.5V752H969.5V751H970.5V752H971.5V753H972.5V754H974.5H975.5V753H976.5H977.5V752H979.5H980.5V751H983.5H984.5V752H992.5H993.5V751H996.5H997.5V749H998.5V745H999.5H1000.5V746H1001.5H1002.5V747H1003.5H1004.5V748H1005.5V747H1011.5H1012.5V745H1013.5V744H1023.5H1024.5V743H1032.5H1033.5V745H1048.5H1049.5V744H1050.5H1051.5V743H1052.5H1053.5V742H1055.5H1056.5V741H1067.5H1068.5V742H1069.5V743H1070.5V742H1071.5H1072.5V741H1073.5H1074.5V740H1075.5H1076.5V739H1082.5H1083.5V738H1084.5H1085.5V737H1087.5H1088.5V736H1089.5H1090.5V737H1094.5H1095.5V736H1096.5H1097.5V735H1103.5H1104.5V736H1108.5H1109.5V735H1112.5H1113.5V734H1115.5H1116.5V733H1126.5H1127.5V732H1128.5H1129.5V731H1130.5H1131.5V730H1132.5H1133.5V729H1134.5V728H1135.5V727H1136.5H1137.5V726H1138.5H1139.5V725H1145.5H1146.5V724H1151.5H1152.5V723H1155.5H1156.5V701H1157.5H1158.5V700H1163.5H1164.5V701H1165.5H1166.5V700H1167.5V699H1168.5V698H1172.5H1173.5V697H1175.5H1176.5V696H1179.5H1180.5V697H1181.5V696H1182.5V695H1183.5V694H1184.5H1185.5V693H1186.5V692H1187.5V691H1193.5H1194.5V690H1196.5H1197.5V689H1198.5H1199.5V686H1200.5V684H1201.5V685H1202.5V686H1203.5V687H1204.5H1205.5V683H1206.5V693H1207.5V683H1208.5H1209.5V684H1214.5H1215.5V683H1216.5H1217.5V682H1218.5H1219.5V681H1220.5H1221.5V680H1222.5H1223.5V679H1224.5V678H1225.5V677H1226.5H1227.5V676H1228.5H1229.5V675H1230.5H1231.5V674H1237.5H1238.5V673H1240.5H1241.5V672H1243.5H1244.5V671H1245.5H1246.5V670H1248.5H1249.5V669H1251.5H1252.5V668H1255.5H1256.5V667H1257.5H1258.5V666H1259.5V665H1260.5H1261.5V664H1263.5H1264.5V663H1265.5H1266.5V662H1267.5H1268.5V661H1269.5V660H1270.5V659H1271.5V658H1272.5H1273.5V656H1274.5H1275.5V657H1280.5H1281.5V656H1282.5V655H1287.5H1288.5V658H1289.5V656H1290.5V654H1291.5V651H1292.5H1293.5V650H1294.5H1295.5V649H1299.5H1300.5V648H1301.5H1302.5V649H1303.5H1304.5V650H1305.5V651H1306.5V652H1307.5H1308.5V653H1309.5V656H1310.5V660H1311.5V655H1312.5V651H1313.5V650H1314.5V648H1315.5V650H1316.5V652H1317.5V651H1318.5V650H1319.5H1320.5V649H1321.5H1322.5V648H1325.5H1326.5V647H1327.5V645H1328.5V644H1330.5H1331.5V643H1332.5H1333.5V642H1334.5V641H1336.5H1337.5V642H1338.5H1339.5V641H1340.5H1341.5V640H1343.5H1344.5V639H1345.5H1346.5V638H1347.5V636H1348.5V635H1350.5H1351.5V634H1352.5H1353.5V633H1358.5H1359.5V632H1360.5V631H1362.5H1363.5V630H1364.5V627H1365.5V626H1366.5V625H1367.5V624H1368.5H1369.5V623H1372.5H1373.5V622H1376.5H1377.5V621H1379.5H1380.5V620H1381.5V619H1382.5V617H1383.5V616H1388.5H1389.5V615H1390.5V613H1391.5H1392.5V612H1394.5H1395.5V611H1398.5H1399.5V612H1400.5V613H1401.5V611H1402.5V609H1403.5V608H1404.5V607H1405.5H1406.5V606H1410.5H1411.5V605H1412.5V599H1413.5V602H1414.5V605H1415.5H1416.5V604H1417.5H1418.5V603H1419.5H1420.5V601H1421.5V600H1422.5V599H1423.5V598H1424.5V597H1425.5V596H1426.5V595H1427.5V594H1428.5V593H1429.5V592H1430.5H1431.5V591H1432.5H1433.5V590H1434.5H1435.5V589H1436.5H1437.5V588H1438.5H1439.5V587H1441.5H1442.5V586H1444.5H1445.5V583H1446.5V582H1451.5H1452.5V581H1458.5H1459.5V580H1460.5H1461.5V579H1462.5H1463.5V578H1464.5H1465.5V577H1466.5H1467.5V576H1468.5H1469.5V575H1470.5V574H1475.5H1476.5V573H1477.5H1478.5V572H1479.5V571H1480.5V570H1481.5H1482.5V569H1483.5H1484.5V568H1485.5H1486.5V567H1487.5H1488.5V566H1489.5V565H1490.5V564H1492.5H1493.5V565H1496.5H1497.5V564H1498.5H1499.5V563H1500.5V562H1504.5H1505.5V561H1506.5H1507.5V560H1508.5V559H1509.5H1510.5V558H1511.5H1512.5V557H1515.5H1516.5V556H1517.5V555H1518.5V554H1519.5V553H1520.5V552H1521.5V551H1522.5H1523.5V552H1526.5H1527.5V551H1528.5H1529.5V550H1531.5H1532.5V549H1533.5V547H1534.5V545H1535.5V543H1540.5H1541.5V542H1542.5V541H1543.5H1544.5V540H1547.5H1548.5V539H1549.5V538H1550.5V537H1551.5H1552.5V536H1553.5V535H1554.5V533H1555.5V532H1557.5H1558.5V531H1560.5H1561.5V530H1562.5V529H1563.5V528H1564.5V527H1565.5V526H1566.5V525H1567.5V524H1569.5H1570.5V525H1571.5V524H1572.5V523H1573.5V522H1577.5H1578.5V521H1579.5V520H1580.5V519H1581.5V518H1583.5H1584.5V517H1585.5V515H1586.5H1587.5V514H1590.5H1591.5V513H1592.5V507H1593.5H1594.5V506H1596.5H1597.5V508H1598.5V509H1599.5V503H1601.5H1602.5V502H1603.5H1604.5V501H1605.5V499H1606.5V500H1611.5H1612.5V499H1614.5H1615.5V498H1616.5H1617.5V497H1618.5V496H1621.5H1622.5V495H1623.5V492H1627.5H1628.5V490H1629.5V488H1631.5H1632.5V487H1635.5H1636.5V484H1640.5H1641.5V480H1642.5V478H1646.5H1647.5V477H1648.5V474H1649.5V472H1650.5V471H1652.5H1653.5V470H1654.5V469H1655.5V467H1656.5H1657.5V466H1658.5H1659.5V464H1660.5V462H1661.5V461H1664.5H1665.5V460H1666.5H1667.5V457H1668.5V456H1670.5H1671.5V455H1672.5H1673.5V454H1674.5V453H1675.5V452H1677.5H1678.5V451H1679.5V449H1680.5V448H1681.5H1682.5V447H1684.5H1685.5V445H1686.5V444H1687.5V443H1689.5H1690.5V442H1691.5H1692.5V441H1693.5V440H1694.5V439H1695.5V438" stroke="#0000ff" stroke-width="3.1" fill="none" stroke-linejoin="round" stroke-linecap="round"/>
<path d="M75.5 895H76.5H77.5V894H80.5H81.5V893H99.5H100.5V892H111.5H112.5V891H113.5V889H114.5V888H120.5H121.5V891H122.5V892H126.5H127.5V891H129.5H130.5V890H132.5H133.5V889H141.5H142.5V888H150.5H151.5V887H152.5V886H153.5V885H159.5H160.5V884H168.5H169.5V883H173.5H174.5V882H178.5H179.5V881H185.5H186.5V880H198.5H199.5V879H205.5H206.5V878H210.5H211.5V877H214.5H215.5V876H219.5H220.5V875H226.5H227.5V874H228.5H229.5V873H230.5V872H231.5V871H232.5H233.5V870H236.5H237.5V869H240.5H241.5V868H244.5H245.5V867H246.5V866H247.5H248.5V865H251.5H252.5V864H256.5H257.5V863H262.5H263.5V862H268.5H269.5V861H274.5H275.5V860H277.5H278.5V859H289.5H290.5V860H291.5V861H292.5V862H294.5H295.5V861H296.5V860H300.5H301.5V859H307.5H308.5V858H311.5H312.5V857H316.5H317.5V856H321.5H322.5V855H328.5H329.5V854H335.5H336.5V853H338.5H339.5V852H340.5H341.5V851H342.5H343.5V850H346.5H347.5V849H352.5H353.5V848H361.5H362.5V847H368.5H369.5V846H371.5H372.5V845H373.5H374.5V844H375.5H376.5V843H377.5V844H379.5H380.5V843H382.5H383.5V842H385.5H386.5V841H391.5H392.5V840H393.5H394.5V839H397.5H398.5V838H401.5H402.5V839H406.5H407.5V840H413.5H414.5V839H417.5H418.5V838H424.5H425.5V835H426.5V832H427.5V831H428.5V830H430.5H431.5V829H433.5H434.5V830H447.5H448.5V829H461.5H462.5V828H471.5H472.5V829H484.5H485.5V828H486.5H487.5V827H488.5H489.5V826H492.5H493.5V825H497.5H498.5V824H502.5H503.5V823H511.5H512.5V820H513.5V818H514.5V815H515.5V814H516.5V813H517.5V812H519.5H520.5V811H522.5H523.5V810H533.5H534.5V809H535.5V807H543.5H544.5V806H557.5H558.5V805H561.5H562.5V804H570.5H571.5V803H575.5H576.5V802H580.5H581.5V801H584.5H585.5V800H599.5H600.5V799H602.5H603.5V798H608.5H609.5V797H612.5H613.5V798H617.5H618.5V797H619.5V796H621.5H622.5V795H630.5H631.5V794H641.5H642.5V793H643.5H644.5V792H646.5H647.5V791H648.5H649.5V790H652.5H653.5V791H655.5H656.5V790H659.5H660.5V791H663.5H664.5V790H670.5H671.5V789H674.5H675.5V788H681.5H682.5V787H687.5H688.5V786H691.5H692.5V785H698.5H699.5V784H705.5H706.5V785H707.5H708.5V786H710.5H711.5V785H712.5H713.5V784H727.5H728.5V783H730.5H731.5V782H745.5H746.5V781H748.5H749.5V780H750.5H751.5V779H752.5H753.5V778H754.5H755.5V777H757.5H758.5V776H765.5H766.5V775H767.5H768.5V774H769.5H770.5V773H776.5H777.5V774H778.5V775H784.5H785.5V774H787.5H788.5V773H789.5H790.5V772H796.5H797.5V771H798.5V770H799.5H800.5V769H801.5V770H802.5V771H803.5H804.5V770H806.5H807.5V769H808.5V770H809.5H810.5V771H811.5V770H814.5H815.5V769H817.5H818.5V768H819.5V767H820.5V766H821.5V765H823.5H824.5V764H832.5H833.5V765H834.5V766H835.5V762H836.5V759H840.5H841.5V760H842.5V759H843.5H844.5V758H845.5V757H846.5H847.5V756H851.5H852.5V755H853.5H854.5V754H858.5H859.5V753H862.5H863.5V752H866.5H867.5V751H869.5H870.5V750H871.5H872.5V749H873.5V748H874.5V747H879.5H880.5V746H882.5H883.5V745H884.5H885.5V744H890.5H891.5V743H892.5V742H893.5V741H894.5V740H897.5H898.5V751H899.5V743H900.5V739H904.5H905.5V738H908.5H909.5V737H910.5V736H911.5V735H912.5V734H913.5V733H914.5H915.5V732H916.5H917.5V731H918.5H919.5V730H920.5V724H921.5V725H923.5H924.5V724H926.5H927.5V723H929.5H930.5V722H932.5H933.5V721H934.5H935.5V720H943.5H944.5V719H945.5H946.5V718H947.5V717H948.5V715H949.5V714H950.5V713H951.5H952.5V712H955.5H956.5V711H957.5H958.5V710H959.5H960.5V709H961.5V708H963.5H964.5V707H966.5H967.5V706H968.5V705H969.5V704H970.5V705H971.5V706H972.5V707H973.5V708H974.5V707H975.5H976.5V706H977.5H978.5V705H979.5H980.5V704H981.5H982.5V705H993.5H994.5V704H996.5H997.5V702H998.5V696H999.5V697H1000.5V698H1001.5H1002.5V699H1003.5V700H1007.5H1008.5V699H1011.5H1012.5V697H1013.5V696H1014.5V695H1015.5V696H1022.5H1023.5V695H1024.5V694H1025.5V695H1030.5H1031.5V694H1032.5V695H1033.5V696H1050.5H1051.5V695H1052.5V694H1053.5H1054.5V693H1055.5H1056.5V692H1066.5H1067.5V693H1068.5H1069.5V694H1070.5H1071.5V693H1072.5V692H1073.5H1074.5V691H1075.5V690H1080.5H1081.5V689H1083.5H1084.5V688H1085.5H1086.5V687H1094.5H1095.5V686H1096.5H1097.5V685H1103.5H1104.5V686H1108.5H1109.5V685H1112.5H1113.5V684H1114.5H1115.5V683H1116.5H1117.5V682H1127.5H1128.5V681H1129.5H1130.5V680H1131.5V679H1132.5V678H1133.5V677H1134.5H1135.5V676H1136.5V675H1137.5V674H1138.5H1139.5V673H1144.5H1145.5V672H1149.5H1150.5V671H1153.5H1154.5V670H1155.5H1156.5V644H1158.5H1159.5V643H1163.5H1164.5V644H1165.5H1166.5V643H1167.5V642H1168.5V641H1169.5H1170.5V640H1174.5H1175.5V639H1176.5V638H1178.5H1179.5V639H1180.5H1181.5V638H1182.5V637H1183.5V636H1184.5V635H1185.5V634H1186.5H1187.5V633H1188.5V632H1193.5H1194.5V631H1195.5H1196.5V630H1197.5H1198.5V629H1199.5V626H1200.5V624H1201.5V626H1202.5V627H1204.5H1205.5V623H1206.5V635H1207.5V622H1208.5V623H1209.5H1210.5V624H1213.5H1214.5V623H1215.5H1216.5V622H1217.5H1218.5V621H1219.5H1220.5V620H1221.5V619H1222.5V618H1223.5V617H1224.5H1225.5V616H1226.5V615H1227.5V614H1228.5H1229.5V613H1230.5V612H1236.5H1237.5V611H1238.5H1239.5V610H1241.5H1242.5V609H1243.5H1244.5V608H1245.5H1246.5V607H1248.5H1249.5V606H1250.5H1251.5V605H1253.5H1254.5V604H1256.5H1257.5V603H1258.5V602H1259.5V601H1260.5H1261.5V600H1262.5H1263.5V599H1264.5H1265.5V598H1266.5H1267.5V597H1268.5V596H1269.5V595H1270.5V594H1271.5V593H1272.5V592H1273.5V590H1274.5H1275.5V592H1276.5H1277.5V591H1280.5H1281.5V590H1282.5V589H1287.5H1288.5V593H1289.5V591H1290.5V587H1291.5V584H1292.5H1293.5V583H1294.5H1295.5V582H1298.5H1299.5V581H1302.5H1303.5V582H1304.5V583H1305.5V584H1306.5V585H1307.5V586H1308.5H1309.5V590H1310.5V594H1311.5V589H1312.5V584H1313.5V583H1314.5V581H1315.5V583H1316.5V585H1317.5V584H1318.5V583H1319.5V582H1320.5V581H1323.5H1324.5V580H1325.5H1326.5V579H1327.5V576H1330.5H1331.5V575H1332.5V574H1333.5V573H1338.5H1339.5V572H1340.5H1341.5V571H1342.5H1343.5V570H1345.5H1346.5V568H1347.5V567H1348.5V565H1349.5H1350.5V564H1351.5H1352.5V563H1358.5H1359.5V562H1360.5V560H1362.5H1363.5V559H1364.5V556H1365.5V554H1366.5V553H1367.5V552H1368.5V551H1369.5H1370.5V550H1374.5H1375.5V549H1376.5H1377.5V548H1379.5H1380.5V547H1381.5V545H1382.5V544H1383.5V542H1388.5H1389.5V541H1390.5V539H1391.5V538H1392.5H1393.5V537H1394.5H1395.5V536H1398.5H1399.5V538H1400.5H1401.5V536H1402.5V534H1403.5V532H1404.5V531H1405.5H1406.5V530H1410.5H1411.5V529H1412.5V522H1413.5V525H1414.5V529H1415.5H1416.5V528H1417.5H1418.5V527H1419.5H1420.5V525H1421.5V523H1422.5V522H1423.5V520H1424.5V519H1425.5V518H1426.5V517H1427.5V516H1428.5V515H1429.5V514H1430.5V513H1431.5V512H1432.5H1433.5V511H1434.5V510H1435.5H1436.5V509H1437.5H1438.5V508H1439.5H1440.5V507H1442.5H1443.5V506H1444.5H1445.5V503H1446.5V501H1453.5H1454.5V500H1458.5H1459.5V499H1460.5H1461.5V498H1462.5H1463.5V497H1464.5H1465.5V496H1466.5V495H1467.5V494H1468.5H1469.5V493H1470.5V492H1473.5H1474.5V491H1476.5H1477.5V490H1478.5V489H1479.5V488H1480.5V487H1481.5V486H1482.5H1483.5V485H1484.5H1485.5V484H1486.5H1487.5V483H1488.5V482H1489.5V481H1490.5V480H1491.5V479H1492.5V480H1493.5H1494.5V481H1496.5H1497.5V480H1498.5V479H1499.5H1500.5V478H1501.5H1502.5V477H1505.5H1506.5V476H1507.5V475H1508.5V474H1509.5V473H1510.5V472H1514.5H1515.5V471H1516.5V470H1517.5V468H1518.5V467H1519.5V466H1520.5V465H1521.5V464H1522.5H1523.5V465H1524.5V466H1525.5V465H1526.5H1527.5V464H1528.5H1529.5V463H1531.5H1532.5V461H1533.5V459H1534.5V457H1535.5V455H1538.5H1539.5V454H1540.5H1541.5V453H1542.5V452H1544.5H1545.5V451H1546.5H1547.5V450H1548.5H1549.5V449H1550.5V448H1551.5V447H1552.5V446H1553.5V444H1554.5V443H1555.5V441H1558.5H1559.5V440H1560.5H1561.5V439H1562.5V438H1563.5V437H1564.5V436H1565.5V434H1566.5V433H1567.5V432H1571.5H1572.5V431H1573.5V430H1574.5V429H1578.5H1579.5V426H1580.5V425H1582.5H1583.5V424H1584.5H1585.5V420H1590.5H1591.5V418H1592.5V411H1594.5H1595.5V410H1596.5H1597.5V413H1598.5V414H1599.5V406H1603.5H1604.5V404H1605.5V402H1606.5V403H1610.5H1611.5V402H1613.5H1614.5V401H1616.5H1617.5V400H1618.5V398H1621.5H1622.5V397H1623.5V393H1627.5H1628.5V391H1629.5V388H1635.5H1636.5V384H1640.5H1641.5V378H1642.5V377H1643.5H1644.5V376H1646.5H1647.5V375H1648.5V372H1649.5V369H1650.5V368H1652.5H1653.5V367H1654.5V365H1655.5V363H1657.5H1658.5V362H1659.5V360H1660.5V357H1661.5V356H1664.5H1665.5V355H1666.5H1667.5V352H1668.5V350H1670.5H1671.5V349H1672.5H1673.5V347H1674.5V346H1676.5H1677.5V345H1678.5V344H1679.5V341H1680.5V340H1682.5H1683.5V339H1684.5H1685.5V336H1686.5V335H1688.5H1689.5V334H1690.5H1691.5V333H1692.5V332H1693.5V331H1694.5V330H1695.5V329" stroke="#0000ff" stroke-width="3.1" fill="none" stroke-linejoin="round" stroke-linecap="round"/>
<path d="M75.5 880H76.5H77.5V879H79.5H80.5V878H83.5H84.5V877H104.5H105.5V876H111.5H112.5V875H113.5V872H120.5H121.5V875H122.5V876H127.5H128.5V875H130.5H131.5V874H132.5H133.5V873H140.5H141.5V872H148.5H149.5V871H151.5H152.5V870H153.5V869H154.5V868H160.5H161.5V867H168.5H169.5V866H173.5H174.5V865H176.5H177.5V864H182.5H183.5V863H188.5H189.5V862H202.5H203.5V861H206.5H207.5V860H210.5H211.5V859H214.5H215.5V858H218.5H219.5V857H224.5H225.5V856H227.5H228.5V855H229.5V854H230.5V853H231.5V852H232.5H233.5V851H235.5H236.5V850H239.5H240.5V849H242.5H243.5V848H244.5H245.5V847H246.5H247.5V846H248.5V845H250.5H251.5V844H255.5H256.5V843H260.5H261.5V842H265.5H266.5V841H270.5H271.5V840H275.5H276.5V839H277.5H278.5V838H289.5H290.5V840H291.5H292.5V842H293.5H294.5V841H295.5V840H296.5H297.5V839H300.5H301.5V838H306.5H307.5V837H310.5H311.5V836H314.5H315.5V835H318.5H319.5V834H323.5H324.5V833H329.5H330.5V832H335.5H336.5V831H338.5H339.5V830H340.5V829H341.5H342.5V828H343.5H344.5V827H348.5H349.5V826H353.5H354.5V825H361.5H362.5V824H368.5H369.5V823H370.5H371.5V822H372.5H373.5V821H374.5H375.5V820H380.5H381.5V819H382.5H383.5V818H385.5H386.5V817H389.5H390.5V818H391.5V817H392.5V816H393.5V815H395.5H396.5V814H403.5H404.5V815H408.5H409.5V816H412.5H413.5V815H415.5H416.5V814H422.5H423.5V813H424.5H425.5V810H426.5V806H427.5V805H428.5V804H430.5H431.5V803H433.5H434.5V804H442.5H443.5V805H444.5V804H448.5H449.5V803H459.5H460.5V802H472.5H473.5V803H483.5H484.5V802H485.5H486.5V801H487.5H488.5V800H490.5H491.5V799H494.5H495.5V798H498.5H499.5V797H502.5H503.5V796H511.5H512.5V793H513.5V790H514.5V787H515.5V786H516.5V784H517.5V783H519.5H520.5V782H522.5H523.5V781H530.5H531.5V780H533.5H534.5V779H535.5V777H545.5H546.5V776H557.5H558.5V775H560.5H561.5V774H568.5H569.5V773H573.5H574.5V772H577.5H578.5V771H581.5H582.5V770H589.5H590.5V769H599.5H600.5V768H601.5H602.5V767H606.5H607.5V766H615.5H616.5V767H617.5V766H618.5H619.5V765H620.5V764H623.5H624.5V763H633.5H634.5V762H641.5H642.5V761H643.5H644.5V760H645.5H646.5V759H647.5H648.5V758H668.5H669.5V757H671.5H672.5V756H675.5H676.5V755H681.5H682.5V754H687.5H688.5V753H690.5H691.5V752H694.5H695.5V751H703.5H704.5V750H705.5H706.5V751H707.5V752H708.5H709.5V753H710.5H711.5V752H712.5V751H718.5H719.5V750H728.5H729.5V749H730.5H731.5V748H746.5H747.5V747H748.5V746H749.5H750.5V745H751.5H752.5V744H753.5H754.5V743H755.5V742H758.5H759.5V741H765.5H766.5V740H767.5H768.5V739H769.5H770.5V738H771.5V737H774.5H775.5V738H776.5H777.5V739H778.5H779.5V740H784.5H785.5V739H786.5H787.5V738H788.5H789.5V737H790.5H791.5V736H793.5H794.5V737H795.5H796.5V736H797.5V735H798.5H799.5V734H800.5V733H801.5V735H803.5H804.5V734H809.5H810.5V735H811.5H812.5V734H814.5H815.5V733H816.5H817.5V732H818.5V731H819.5V730H820.5V729H821.5H822.5V728H824.5H825.5V727H832.5H833.5V729H834.5V730H835.5V725H836.5V721H838.5H839.5V722H841.5H842.5V721H843.5H844.5V720H845.5H846.5V719H847.5V718H851.5H852.5V717H853.5V716H855.5H856.5V715H860.5H861.5V714H863.5H864.5V713H866.5H867.5V712H869.5H870.5V711H871.5V710H872.5V709H873.5H874.5V708H878.5H879.5V707H880.5H881.5V706H882.5H883.5V705H884.5H885.5V704H889.5H890.5V703H891.5H892.5V701H893.5V700H894.5V699H897.5H898.5V712H899.5V703H900.5V698H903.5H904.5V697H907.5H908.5V696H909.5H910.5V695H911.5V693H912.5V692H913.5V691H914.5V690H915.5H916.5V689H917.5H918.5V688H919.5H920.5V681H924.5H925.5V680H927.5H928.5V679H929.5H930.5V678H932.5H933.5V677H934.5H935.5V676H940.5H941.5V675H945.5H946.5V674H947.5V672H948.5V670H949.5V669H950.5V668H951.5V667H953.5H954.5V666H956.5H957.5V665H958.5H959.5V664H960.5V663H961.5V662H962.5H963.5V661H965.5H966.5V660H967.5H968.5V659H969.5V658H970.5V659H971.5V660H972.5V661H974.5H975.5V660H976.5H977.5V659H978.5H979.5V658H987.5H988.5V659H991.5H992.5V658H994.5H995.5V657H996.5H997.5V655H998.5V648H999.5V649H1000.5V650H1001.5V651H1002.5H1003.5V652H1009.5H1010.5V651H1011.5H1012.5V649H1013.5V648H1014.5V647H1017.5H1018.5V648H1022.5H1023.5V647H1024.5V646H1026.5H1027.5V647H1028.5V646H1032.5H1033.5V648H1049.5H1050.5V647H1051.5H1052.5V646H1053.5V645H1054.5H1055.5V644H1056.5V643H1064.5H1065.5V644H1067.5H1068.5V645H1070.5H1071.5V644H1072.5V643H1073.5H1074.5V642H1075.5V641H1079.5H1080.5V640H1082.5H1083.5V639H1084.5H1085.5V638H1086.5H1087.5V637H1090.5H1091.5V638H1093.5H1094.5V637H1095.5V636H1096.5H1097.5V635H1103.5H1104.5V636H1108.5H1109.5V635H1111.5H1112.5V634H1113.5H1114.5V633H1115.5H1116.5V632H1125.5H1126.5V631H1127.5H1128.5V630H1129.5H1130.5V629H1131.5V628H1132.5V627H1133.5V626H1134.5V625H1135.5V624H1136.5V623H1137.5H1138.5V622H1139.5H1140.5V621H1143.5H1144.5V620H1148.5H1149.5V619H1151.5H1152.5V618H1155.5H1156.5V587H1158.5H1159.5V586H1163.5H1164.5V587H1165.5H1166.5V586H1167.5V585H1168.5V584H1169.5V583H1171.5H1172.5V582H1175.5H1176.5V580H1177.5H1178.5V581H1180.5H1181.5V580H1182.5V579H1183.5V578H1184.5V577H1185.5V576H1186.5V575H1187.5V574H1188.5V573H1193.5H1194.5V572H1195.5H1196.5V571H1197.5H1198.5V570H1199.5V567H1200.5V563H1201.5V566H1202.5V567H1204.5H1205.5V562H1206.5V577H1207.5V562H1208.5H1209.5V563H1210.5H1211.5V564H1212.5H1213.5V563H1214.5H1215.5V562H1216.5H1217.5V561H1218.5V560H1219.5H1220.5V559H1221.5V558H1222.5V557H1223.5V556H1224.5V555H1225.5V554H1226.5V553H1227.5V552H1228.5H1229.5V551H1230.5V550H1232.5H1233.5V549H1237.5H1238.5V548H1240.5H1241.5V547H1242.5V546H1244.5H1245.5V545H1246.5V544H1248.5H1249.5V543H1250.5V542H1252.5H1253.5V541H1255.5H1256.5V540H1257.5H1258.5V539H1259.5V537H1260.5H1261.5V536H1262.5V535H1263.5H1264.5V534H1265.5H1266.5V533H1267.5V532H1268.5V531H1269.5V530H1270.5V529H1271.5V528H1272.5V526H1273.5V524H1274.5H1275.5V526H1278.5H1279.5V525H1280.5H1281.5V524H1282.5V523H1287.5H1288.5V528H1289.5V525H1290.5V521H1291.5V517H1292.5H1293.5V516H1294.5H1295.5V515H1297.5H1298.5V514H1302.5H1303.5V515H1304.5V516H1305.5V517H1306.5V518H1307.5V519H1308.5V520H1309.5V524H1310.5V529H1311.5V523H1312.5V518H1313.5V516H1314.5V514H1315.5V516H1316.5V518H1317.5V517H1318.5V516H1319.5V515H1320.5V514H1322.5H1323.5V513H1325.5H1326.5V512H1327.5V508H1330.5H1331.5V507H1332.5V506H1333.5V505H1334.5V504H1339.5H1340.5V503H1341.5V502H1342.5H1343.5V501H1345.5H1346.5V499H1347.5V497H1348.5V496H1349.5V495H1350.5V494H1351.5H1352.5V493H1353.5V492H1358.5H1359.5V491H1360.5V490H1361.5V489H1362.5H1363.5V487H1364.5V484H1365.5V482H1366.5V481H1367.5V480H1368.5V479H1369.5V478H1371.5H1372.5V477H1375.5H1376.5V476H1377.5H1378.5V475H1379.5H1380.5V474H1381.5V472H1382.5V470H1383.5V468H1388.5H1389.5V467H1390.5V464H1391.5H1392.5V463H1393.5H1394.5V462H1396.5H1397.5V461H1398.5H1399.5V463H1400.5V464H1401.5V461H1402.5V459H1403.5V457H1404.5V455H1406.5H1407.5V454H1410.5H1411.5V453H1412.5V444H1413.5V448H1414.5V453H1415.5H1416.5V452H1417.5V451H1418.5H1419.5V450H1420.5V448H1421.5V446H1422.5V444H1423.5V443H1424.5V442H1425.5V440H1426.5V439H1427.5V438H1428.5V436H1429.5V435H1430.5V434H1431.5H1432.5V433H1433.5V432H1434.5V431H1435.5H1436.5V430H1437.5V429H1438.5H1439.5V428H1440.5H1441.5V427H1443.5H1444.5V426H1445.5V422H1446.5V420H1455.5H1456.5V419H1458.5H1459.5V418H1460.5H1461.5V417H1462.5V416H1463.5H1464.5V415H1465.5V414H1466.5V413H1467.5H1468.5V412H1469.5V411H1470.5V410H1472.5H1473.5V409H1475.5H1476.5V408H1477.5V407H1478.5V406H1479.5V405H1480.5V404H1481.5V403H1482.5V402H1483.5H1484.5V401H1485.5H1486.5V400H1487.5H1488.5V398H1489.5V397H1490.5V396H1491.5V395H1492.5V396H1493.5H1494.5V397H1495.5V398H1496.5V397H1497.5V396H1498.5V395H1499.5V394H1500.5V393H1502.5H1503.5V392H1505.5H1506.5V391H1507.5V390H1508.5V389H1509.5V388H1510.5V387H1511.5V386H1515.5H1516.5V384H1517.5V382H1518.5V381H1519.5V380H1520.5V379H1521.5V377H1522.5H1523.5V378H1524.5V379H1525.5H1526.5V378H1527.5H1528.5V377H1529.5V376H1530.5H1531.5V375H1532.5V374H1533.5V372H1534.5V369H1535.5V367H1536.5V366H1540.5H1541.5V364H1542.5V363H1544.5H1545.5V362H1546.5H1547.5V361H1548.5V360H1549.5V359H1550.5V358H1551.5V357H1552.5V356H1553.5V354H1554.5V353H1555.5V351H1556.5V350H1558.5H1559.5V349H1560.5H1561.5V348H1562.5V347H1563.5V345H1564.5V344H1565.5V342H1566.5V341H1567.5V340H1571.5H1572.5V339H1573.5V337H1574.5H1575.5V336H1578.5H1579.5V333H1580.5V332H1581.5H1582.5V331H1583.5H1584.5V330H1585.5V326H1589.5H1590.5V325H1591.5V324H1592.5V316H1593.5V315H1594.5H1595.5V314H1596.5H1597.5V317H1598.5V319H1599.5V310H1600.5H1601.5V309H1603.5H1604.5V307H1605.5V305H1606.5H1607.5V306H1610.5H1611.5V305H1612.5H1613.5V304H1615.5H1616.5V303H1617.5V302H1618.5V300H1621.5H1622.5V298H1623.5V295H1624.5H1625.5V294H1627.5H1628.5V292H1629.5V289H1630.5H1631.5V288H1635.5H1636.5V284H1639.5H1640.5V283H1641.5V277H1642.5V275H1646.5H1647.5V273H1648.5V270H1649.5V266H1650.5V265H1652.5H1653.5V264H1654.5V262H1655.5V260H1656.5V259H1657.5H1658.5V258H1659.5V256H1660.5V252H1661.5H1662.5V251H1664.5H1665.5V250H1666.5V249H1667.5V246H1668.5V244H1670.5H1671.5V243H1672.5H1673.5V241H1674.5V240H1675.5V239H1677.5H1678.5V237H1679.5V234H1680.5V233H1681.5H1682.5V232H1683.5H1684.5V231H1685.5V228H1686.5V227H1687.5V226H1689.5H1690.5V225H1691.5V224H1692.5V223H1693.5V222H1694.5V221H1695.5V219" stroke="#0000ff" stroke-width="3.1" fill="none" stroke-linejoin="round" stroke-linecap="round"/>
<rect x="72.7" y="47.1" width="1775.8" height="914.8" fill="none" stroke="#000" stroke-width="4"/>
<rect x="78.6" y="146.3" width="483.4" height="62.4" fill="#fff" stroke="#000" stroke-width="3.2"/>
<path d="M86 162H140" stroke="#ff0000" stroke-width="3.3"/>
<path d="M86 189.5H140" stroke="#0000ff" stroke-width="3.3"/>
<g style="font-family:'Liberation Sans',Arial,sans-serif;font-weight:bold" fill="#000">
<text x="150" y="169.5" font-size="24">Forward Earnings (Jul 03 = 97.1)</text>
<text x="150" y="196.5" font-size="24">Blue Angels Implied Earnings*</text>
<text x="54" y="897.6" font-size="24" text-anchor="end" letter-spacing="-0.3">20</text>
<text x="1866" y="897.6" font-size="24" letter-spacing="-0.3">20</text>
<text x="54" y="803.8" font-size="24" text-anchor="end" letter-spacing="-0.3">40</text>
<text x="1866" y="803.8" font-size="24" letter-spacing="-0.3">40</text>
<text x="54" y="710.0" font-size="24" text-anchor="end" letter-spacing="-0.3">60</text>
<text x="1866" y="710.0" font-size="24" letter-spacing="-0.3">60</text>
<text x="54" y="616.2" font-size="24" text-anchor="end" letter-spacing="-0.3">80</text>
<text x="1866" y="616.2" font-size="24" letter-spacing="-0.3">80</text>
<text x="54" y="522.4" font-size="24" text-anchor="end" letter-spacing="-0.3">100</text>
<text x="1866" y="522.4" font-size="24" letter-spacing="-0.3">100</text>
<text x="54" y="428.5" font-size="24" text-anchor="end" letter-spacing="-0.3">120</text>
<text x="1866" y="428.5" font-size="24" letter-spacing="-0.3">120</text>
<text x="54" y="334.7" font-size="24" text-anchor="end" letter-spacing="-0.3">140</text>
<text x="1866" y="334.7" font-size="24" letter-spacing="-0.3">140</text>
<text x="54" y="240.9" font-size="24" text-anchor="end" letter-spacing="-0.3">160</text>
<text x="1866" y="240.9" font-size="24" letter-spacing="-0.3">160</text>
<text x="54" y="147.1" font-size="24" text-anchor="end" letter-spacing="-0.3">180</text>
<text x="1866" y="147.1" font-size="24" letter-spacing="-0.3">180</text>
<text x="54" y="53.2" font-size="24" text-anchor="end" letter-spacing="-0.3">200</text>
<text x="1866" y="53.2" font-size="24" letter-spacing="-0.3">200</text>
<text x="72.4" y="996.4" font-size="24" text-anchor="middle" letter-spacing="-0.4">2004</text>
<text x="223.5" y="996.4" font-size="24" text-anchor="middle" letter-spacing="-0.4">2006</text>
<text x="374.6" y="996.4" font-size="24" text-anchor="middle" letter-spacing="-0.4">2008</text>
<text x="525.7" y="996.4" font-size="24" text-anchor="middle" letter-spacing="-0.4">2010</text>
<text x="676.8" y="996.4" font-size="24" text-anchor="middle" letter-spacing="-0.4">2012</text>
<text x="827.9" y="996.4" font-size="24" text-anchor="middle" letter-spacing="-0.4">2014</text>
<text x="979.0" y="996.4" font-size="24" text-anchor="middle" letter-spacing="-0.4">2016</text>
<text x="1130.1" y="996.4" font-size="24" text-anchor="middle" letter-spacing="-0.4">2018</text>
<text x="1281.2" y="996.4" font-size="24" text-anchor="middle" letter-spacing="-0.4">2020</text>
<text x="1432.3" y="996.4" font-size="24" text-anchor="middle" letter-spacing="-0.4">2022</text>
<text x="1583.4" y="996.4" font-size="24" text-anchor="middle" letter-spacing="-0.4">2024</text>
<text x="1734.5" y="996.4" font-size="24" text-anchor="middle" letter-spacing="-0.4">2026</text>
<text x="75" y="1034.5" font-size="23.95">Source: LSEG Datastreamand © Yardeni Research. Standard &amp; Poor's.</text>
<text x="75" y="1067.8" font-size="24.05">* Implied forward earnings calculated using forward revenues times selected profit margins.</text>
</g>
<g style="font-family:'Liberation Sans',Arial,sans-serif;font-weight:bold" fill="#fff" text-anchor="middle">
<text x="790" y="85.4" font-size="30.9">S&amp;P 500 HEALTH CARE SECTOR: FORWARD REVENUES, PROFIT MARGINS &amp; EARNINGS</text>
<text x="790.5" y="128.4" font-size="30.9">(analysts’ consensus forecast, dollars, weekly, ratio scale)</text>
</g>
<g style="font-family:'Liberation Sans',Arial,sans-serif;font-weight:bold" fill="#0000ff" font-size="24">
<text x="1730.2" y="223.8" letter-spacing="-0.25">x 0.14</text>
<text x="1727.7" y="331.9" letter-spacing="-0.25">x 0.12</text>
<text x="1727.6" y="444.3" letter-spacing="-0.25">x 0.10</text>
<text x="1725.3" y="544.3" letter-spacing="-0.25">x 0.08</text>
<text x="1725.3" y="645.0" letter-spacing="-0.25">x 0.06</text>
</g>
</svg>
</body></html>
